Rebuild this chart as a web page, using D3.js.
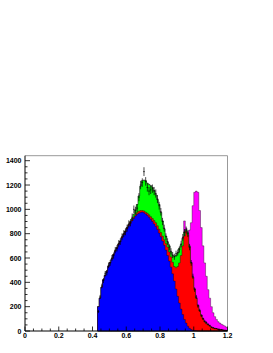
<!DOCTYPE html>
<html>
<head>
<meta charset="utf-8">
<script src="https://cdn.jsdelivr.net/npm/d3@7"></script>
<style>
html,body{margin:0;padding:0;background:#fff;}
svg{display:block;}
text{font-family:"Liberation Sans",Arial,Helvetica,sans-serif;font-weight:bold;font-size:7px;fill:#000;}
</style>
</head>
<body>
<div id="chart"></div>
<script>
// ---- data ----
const binStart = 0.43;
const binWidth = 0.01;
const blue = [200,270,360,420,455,490,530,560,590,625,655,680,710,735,765,790,815,
  840,865,885,905,925,945,960,968,975,978,972,962,950,935,918,900,880,860,835,805,
  775,740,705,665,620,575,525,470,410,345,285,230,180,135,95,65,40,22,12,6,3,2,1,
  0,0,0,0,0,0,0,0,0,0,0,0,0,0,0,0,0];
const red = [0,0,0,2,2,3,3,3,4,4,4,5,5,5,6,6,6,
  8,8,10,10,10,10,15,17,15,12,15,15,18,20,22,25,28,30,30,32,
  35,40,45,55,70,75,85,95,120,175,245,330,440,565,685,755,750,668,548,434,342,268,209,
  165,130,100,75,60,50,40,33,27,22,18,15,12,10,8,6,5];
const green = [0,0,0,0,0,0,0,0,0,0,0,0,0,0,0,0,0,
  2,2,5,10,25,40,65,125,200,245,253,258,247,250,255,255,247,230,215,203,
  165,125,90,60,40,50,40,55,85,100,110,120,90,60,35,15,20,10,5,4,3,3,2,
  2,2,2,1,1,1,0,0,0,0,0,0,0,0,0,0,0];
const magenta = [0,0,0,0,0,0,0,0,0,0,0,0,0,0,0,0,0,
  0,0,0,0,0,0,0,0,0,0,0,0,0,0,0,0,0,0,0,0,
  0,0,0,0,0,0,0,0,0,0,0,0,0,5,90,10,5,130,325,586,792,877,928,
  823,718,598,484,389,289,230,167,123,96,77,62,53,45,40,34,25];
const observed = [160,280,370,415,470,480,540,560,600,620,665,680,720,735,775,800,815,
  845,880,890,935,1000,990,1010,1100,1200,1220,1310,1230,1180,1150,1160,1170,1150,1130,1085,1030,
  980,900,845,775,735,690,655,625,610,635,645,670,715,770,810,830,800,690,560,450,340,280,205,
  170,125,100,80,70,55,45,30,25,20,20,12,10,12,6,5,4];
const xTicks = [0,0.2,0.4,0.6,0.8,1,1.2];
const xTickLabels = ["0","0.2","0.4","0.6","0.8","1","1.2"];
const yTicks = [0,200,400,600,800,1000,1200,1400];
const seriesKeys = ["blue","red","green","magenta"];
const seriesColors = {blue:"#0000ff",red:"#ff0000",green:"#00ff00",magenta:"#ff00ff"};

// ---- layout ----
const W = 273, H = 353;
const padL = 25, padR = 227.5, padT = 155.7, padB = 331;

const svg = d3.select("#chart").append("svg").attr("width", W).attr("height", H);

const x = d3.scaleLinear().domain([0, 1.2]).range([padL, padR]);
const y = d3.scaleLinear().domain([0, 1441]).range([padB, padT]);

const rows = blue.map((b, i) => ({
  x0: binStart + i * binWidth,
  blue: b, red: red[i], green: green[i], magenta: magenta[i], obs: observed[i]
}));

const stacked = d3.stack().keys(seriesKeys)(rows);

function stepPoints(layer) {
  const pts = [];
  layer.forEach(d => {
    const x0 = d.data.x0, x1 = d.data.x0 + binWidth;
    pts.push([x0, d[1]]);
    pts.push([x1, d[1]]);
  });
  return pts;
}
const area = d3.area()
  .x(p => x(p[0]))
  .y0(y(0))
  .y1(p => y(p[1]));

const plot = svg.append("g");
// draw from the outermost (cumulative total) to the innermost
stacked.slice().reverse().forEach(layer => {
  plot.append("path")
    .attr("d", area(stepPoints(layer)))
    .attr("fill", seriesColors[layer.key])
    .attr("stroke", "#000")
    .attr("stroke-opacity", 0.7)
    .attr("stroke-width", 0.5);
});

// data points with error bars
const ptsG = svg.append("g").attr("stroke", "#000").attr("stroke-width", 0.7);
rows.forEach(d => {
  const v = d.obs, e = Math.sqrt(v);
  ptsG.append("line")
    .attr("x1", x(d.x0)).attr("x2", x(d.x0 + binWidth))
    .attr("y1", y(v)).attr("y2", y(v));
  ptsG.append("line")
    .attr("x1", x(d.x0 + binWidth / 2)).attr("x2", x(d.x0 + binWidth / 2))
    .attr("y1", y(Math.max(0, v - e))).attr("y2", y(v + e));
});

// frame
svg.append("line").attr("x1", padL).attr("x2", padR).attr("y1", padT).attr("y2", padT)
  .attr("stroke", "#999").attr("stroke-width", 1);
svg.append("line").attr("x1", padR).attr("x2", padR).attr("y1", padT).attr("y2", padB)
  .attr("stroke", "#999").attr("stroke-width", 1);

// x axis: ticks inside the frame
const xMinor = d3.range(0, 1.2001, 0.05);
const xAxis = svg.append("g");
xAxis.selectAll("line.minor").data(xMinor).enter().append("line")
  .attr("x1", d => x(d)).attr("x2", d => x(d))
  .attr("y1", padB).attr("y2", d => padB - (xTicks.some(t => Math.abs(t - d) < 1e-6) ? 4.5 : 2.5))
  .attr("stroke", "#000").attr("stroke-width", 0.8);
xAxis.append("line").attr("x1", padL).attr("x2", padR).attr("y1", padB).attr("y2", padB)
  .attr("stroke", "#000").attr("stroke-width", 1);
xAxis.selectAll("text").data(xTicks).enter().append("text")
  .attr("x", d => x(d)).attr("y", padB + 6.5)
  .attr("text-anchor", "middle")
  .text((d, i) => xTickLabels[i]);

// y axis
const yMinor = d3.range(0, 1401, 50);
const yAxis = svg.append("g");
yAxis.selectAll("line.minor").data(yMinor).enter().append("line")
  .attr("x1", padL).attr("x2", d => padL + (d % 200 === 0 ? 5 : 2.5))
  .attr("y1", d => y(d)).attr("y2", d => y(d))
  .attr("stroke", "#000").attr("stroke-width", 0.8);
yAxis.append("line").attr("x1", padL).attr("x2", padL).attr("y1", padT).attr("y2", padB)
  .attr("stroke", "#000").attr("stroke-width", 1);
yAxis.selectAll("text").data(yTicks).enter().append("text")
  .attr("x", padL - 3.5).attr("y", d => y(d) + 2.5)
  .attr("text-anchor", "end")
  .text(d => d3.format("d")(d));
</script>
</body>
</html>
